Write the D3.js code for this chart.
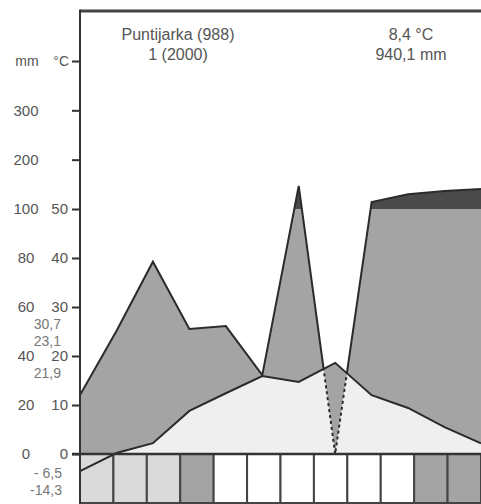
<!DOCTYPE html>
<html>
<head>
<meta charset="utf-8">
<script src="https://cdn.jsdelivr.net/npm/d3@7"></script>
<style>
  body { margin: 0; background: #fff; }
  svg { display: block; }
  text { font-family: "Liberation Sans", Arial, sans-serif; fill: #555; }
</style>
</head>
<body>
<svg id="chart" width="481" height="504"></svg>
<script>
// monthly values
const months = ["I","II","III","IV","V","VI","VII","VIII","IX","X","XI","XII"]
const temperature = [-3.5, 0.2, 2.2, 8.8, 12.4, 15.9, 14.7, 18.6, 12.0, 9.4, 5.5, 2.2]
const precipitation = [24.1, 50.2, 78.5, 51, 52.2, 32.2, 146.7, 0, 114, 130, 136.5, 140.6]
const frost = ["light","light","light","dark","none","none","none","none","none","none","dark","dark"]

const precipTicks = [0, 20, 40, 60, 80, 100, 200, 300]
const tempTicks = [0, 10, 20, 30, 40, 50]
const station = ["Puntijarka (988)", "1 (2000)"]
const summary = ["8,4 °C", "940,1 mm"]
const upperNotes = ["30,7", "23,1", "21,9"]
const lowerNotes = ["- 6,5", "-14,3"]

const W = 481, H = 504
const LEFT = 80, TOP = 11, BOTTOM = 503

const svg = d3.select("#chart")
const defs = svg.append("defs")

const x = d3.scaleLinear().domain([0, 11]).range([LEFT, W])
const band = d3.scaleBand().domain(months).range([LEFT, W])
const yT = d3.scaleLinear().domain([0, 50]).range([454, 209])
const yP = d3.scaleLinear().domain([0, 100, 400]).range([454, 209, 61])

const precipArea = d3.area().x((d, i) => x(i)).y0(yP(0)).y1(d => yP(d))
const tempArea = d3.area().x((d, i) => x(i)).y0(yT(0)).y1(d => yT(d))
const tempLine = d3.line().x((d, i) => x(i)).y(d => yT(d))
const precipLine = d3.line().x((d, i) => x(i)).y(d => yP(d))

defs.append("clipPath").attr("id", "clipPrecip")
  .append("path").attr("d", precipArea(precipitation))
defs.append("clipPath").attr("id", "clipAboveTemp")
  .append("path").attr("d", d3.area().x((d, i) => x(i)).y0(0).y1(d => yT(d))(temperature))
defs.append("clipPath").attr("id", "clipBelowTemp")
  .append("path").attr("d", d3.area().x((d, i) => x(i)).y0(H).y1(d => yT(d))(temperature))
defs.append("clipPath").attr("id", "clipAbove100")
  .append("rect").attr("x", 0).attr("y", 0).attr("width", W).attr("height", yP(100))

// fills
svg.append("path").attr("d", precipArea(precipitation)).attr("fill", "#a4a4a4")
svg.append("path").attr("d", tempArea(temperature)).attr("fill", "#a4a4a4")
svg.append("path").attr("d", tempArea(temperature)).attr("fill", "#efefef")
  .attr("clip-path", "url(#clipPrecip)")
svg.append("path").attr("d", precipArea(precipitation)).attr("fill", "#4a4a4a")
  .attr("clip-path", "url(#clipAbove100)")

// frost bar
const frostColor = { light: "#dadada", dark: "#a4a4a4", none: "#ffffff" }
svg.append("g").selectAll("rect")
  .data(months)
  .join("rect")
  .attr("x", d => band(d))
  .attr("y", yT(0))
  .attr("width", band.bandwidth())
  .attr("height", BOTTOM - yT(0))
  .attr("fill", (d, i) => frostColor[frost[i]])
  .attr("stroke", "#444")
  .attr("stroke-width", 2)

// curves
svg.append("path").datum(temperature)
  .attr("d", tempLine)
  .attr("fill", "none").attr("stroke", "#2b2b2b").attr("stroke-width", 2)
svg.append("path").datum(precipitation)
  .attr("d", precipLine)
  .attr("fill", "none").attr("stroke", "#2b2b2b").attr("stroke-width", 2)
  .attr("clip-path", "url(#clipAboveTemp)")
svg.append("path").datum(precipitation)
  .attr("d", precipLine)
  .attr("fill", "none").attr("stroke", "#2b2b2b").attr("stroke-width", 2)
  .attr("stroke-dasharray", "3,3")
  .attr("clip-path", "url(#clipBelowTemp)")

// frame
svg.append("line")
  .attr("x1", LEFT - 8).attr("x2", W).attr("y1", yT(0)).attr("y2", yT(0))
  .attr("stroke", "#333").attr("stroke-width", 2.5)
svg.append("line")
  .attr("x1", LEFT).attr("x2", W).attr("y1", TOP).attr("y2", TOP)
  .attr("stroke", "#444").attr("stroke-width", 3)

const axis = svg.append("g")
  .attr("transform", `translate(${LEFT},0)`)
  .call(d3.axisLeft(yP).tickValues(precipTicks.concat([400])).tickSize(8).tickFormat(""))
axis.select(".domain").remove()
axis.selectAll(".tick line").attr("stroke", "#333").attr("stroke-width", 2)
svg.append("line")
  .attr("x1", LEFT).attr("x2", LEFT).attr("y1", TOP - 1.5).attr("y2", BOTTOM)
  .attr("stroke", "#333").attr("stroke-width", 2)

// tick labels
svg.append("g").selectAll("text")
  .data(precipTicks)
  .join("text")
  .attr("x", 26).attr("y", d => yP(d)).attr("dy", "0.36em")
  .attr("text-anchor", "middle").style("font-size", "15px")
  .text(d => d)
svg.append("g").selectAll("text")
  .data(tempTicks)
  .join("text")
  .attr("x", 68).attr("y", d => yT(d)).attr("dy", "0.36em")
  .attr("text-anchor", "end").style("font-size", "15px")
  .text(d => d)
svg.append("text")
  .attr("x", 27).attr("y", yP(400)).attr("dy", "0.36em")
  .attr("text-anchor", "middle").style("font-size", "14px").text("mm")
svg.append("text")
  .attr("x", 69).attr("y", yP(400)).attr("dy", "0.36em")
  .attr("text-anchor", "end").style("font-size", "14px").text("°C")

// extreme values next to the axis
svg.append("g").selectAll("text")
  .data(upperNotes)
  .join("text")
  .attr("x", 61)
  .attr("y", (d, i) => i < 2 ? yT(30) + 17 * (i + 1) : yT(20) + 17)
  .attr("dy", "0.36em")
  .attr("text-anchor", "end").style("font-size", "14px").style("fill", "#777")
  .text(d => d)
svg.append("g").selectAll("text")
  .data(lowerNotes)
  .join("text")
  .attr("x", 62)
  .attr("y", (d, i) => yT(0) + 19 + 17 * i)
  .attr("dy", "0.36em")
  .attr("text-anchor", "end").style("font-size", "14px").style("fill", "#777")
  .text(d => d)

// header
svg.append("g").selectAll("text")
  .data(station)
  .join("text")
  .attr("x", 178).attr("y", (d, i) => 40 + 20 * i)
  .attr("text-anchor", "middle").style("font-size", "16px")
  .text(d => d)
svg.append("g").selectAll("text")
  .data(summary)
  .join("text")
  .attr("x", 411).attr("y", (d, i) => 40 + 20 * i)
  .attr("text-anchor", "middle").style("font-size", "16px")
  .text(d => d)
</script>
</body>
</html>
